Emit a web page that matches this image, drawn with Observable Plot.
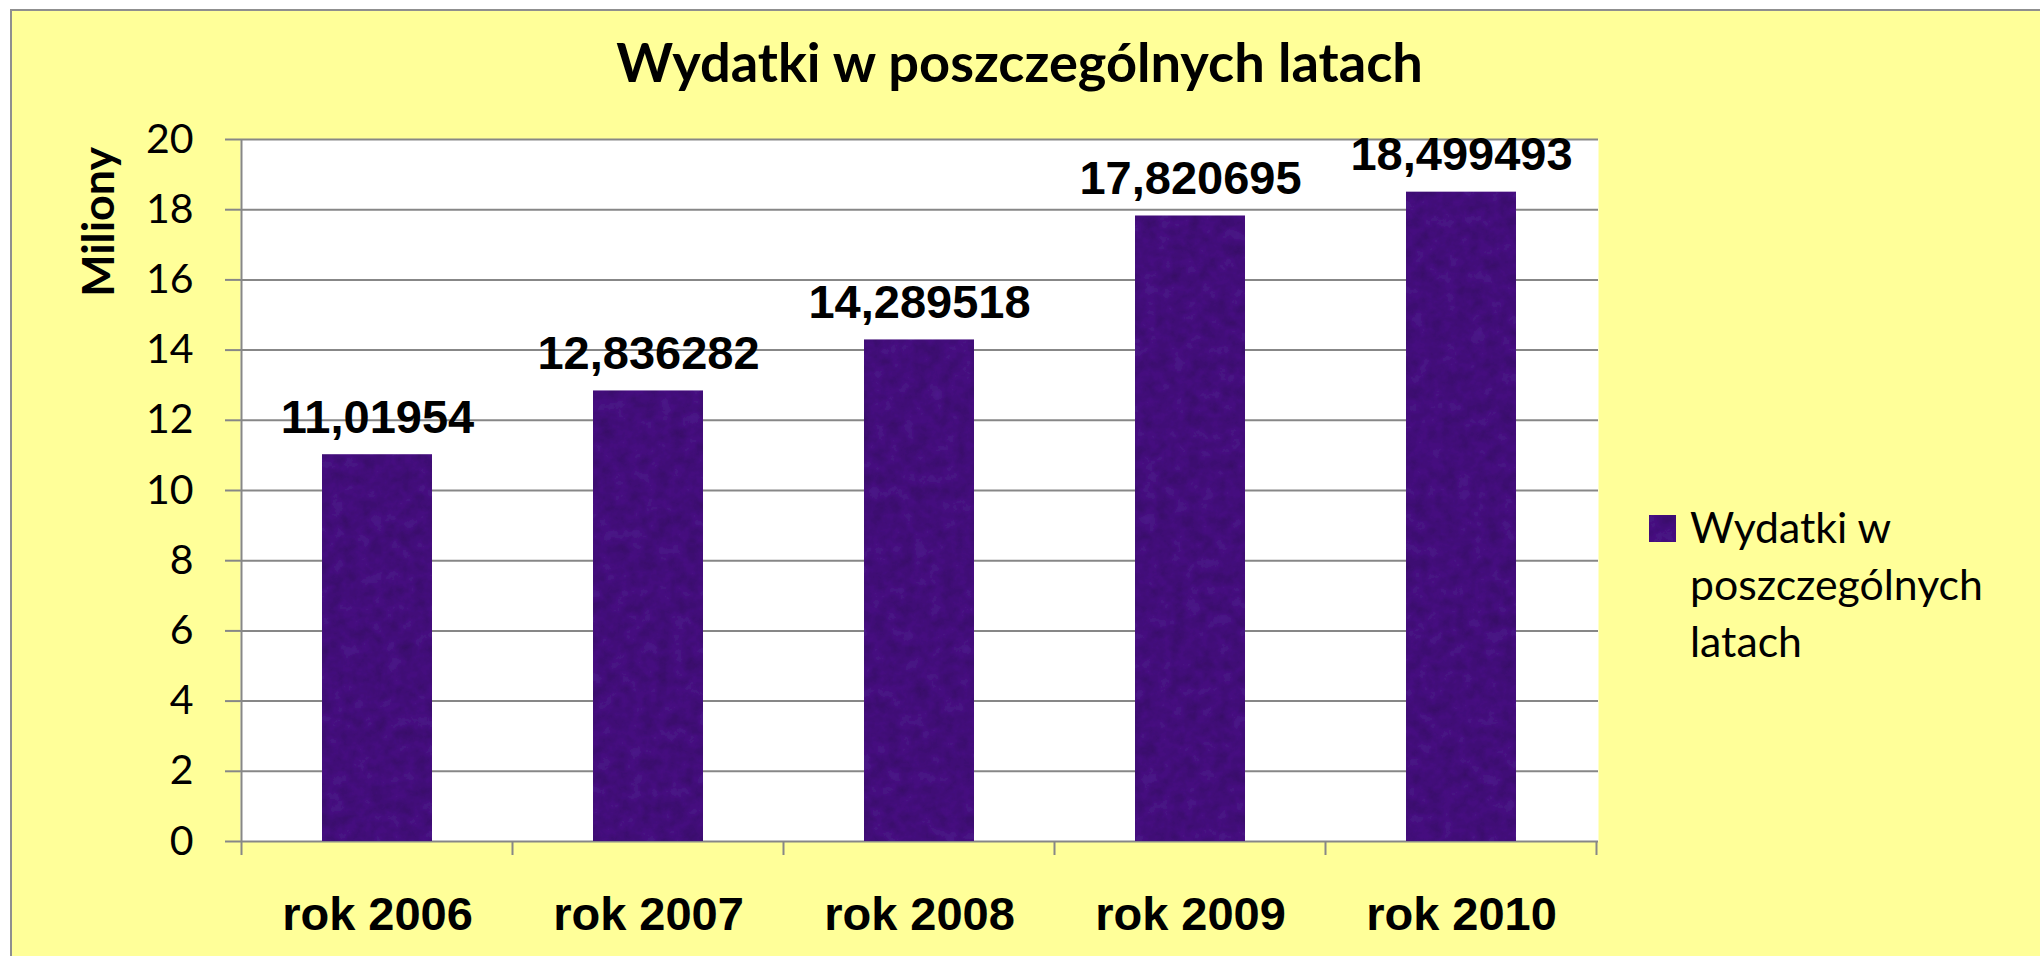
<!DOCTYPE html>
<html>
<head>
<meta charset="utf-8">
<script src="https://cdn.jsdelivr.net/npm/d3@7"></script>
<script src="https://cdn.jsdelivr.net/npm/@observablehq/plot@0.6"></script>
<style>
  html, body { margin: 0; padding: 0; width: 2040px; height: 956px; overflow: hidden; background: #ffffff; }
  #panel { position: absolute; left: 10px; top: 9px; width: 2040px; height: 956px;
           background: #FFFF99; border-left: 2px solid #8f8f8f; border-top: 2px solid #8f8f8f; }
  #chart { position: absolute; left: 0; top: 0; }
  .lbl { position: absolute; white-space: nowrap; color: #000; font-family: Lato, "Open Sans", sans-serif; }
  #title { font-weight: bold; }
  #ylabel { font-weight: bold; transform-origin: center center; }
  #legend { position: absolute; }
  #legend .sw { position: absolute; }
  #legend .txt { position: absolute; white-space: nowrap; font-family: Lato, "Open Sans", sans-serif; color: #000; }
</style>
</head>
<body>
<div id="panel"></div>
<div id="chart"></div>
<div id="title" class="lbl"></div>
<div id="ylabel" class="lbl"></div>
<div id="legend"></div>
<script>
// ---- data ----
const years = ["rok 2006", "rok 2007", "rok 2008", "rok 2009", "rok 2010"];
const values = [11.01954, 12.836282, 14.289518, 17.820695, 18.499493];
const valueLabels = ["11,01954", "12,836282", "14,289518", "17,820695", "18,499493"];
const yTicks = [0, 2, 4, 6, 8, 10, 12, 14, 16, 18, 20];
const chartTitle = "Wydatki w poszczególnych latach";
const yAxisLabel = "Miliony";
const legendLines = ["Wydatki w", "poszczególnych", "latach"];

const data = years.map((y, i) => ({year: y, value: values[i], label: valueLabels[i]}));

const NS = "http://www.w3.org/2000/svg";
const GRID = "#878787";
const BASE = "#42107a";

// texture definitions (pattern used as bar fill)
const defsMark = () => {
  const g = document.createElementNS(NS, "g");
  g.innerHTML = `
    <defs>
      <filter id="noiseF" x="0" y="0" width="100%" height="100%">
        <feTurbulence type="fractalNoise" baseFrequency="0.07" numOctaves="4" seed="11" result="t"/>
        <feColorMatrix in="t" type="matrix" values="1 0 0 0 0  1 0 0 0 0  1 0 0 0 0  0 0 0 0 1" result="g"/>
        <feComposite in="SourceGraphic" in2="g" operator="arithmetic" k1="0.7" k2="0.65" k3="0" k4="0" result="m"/>
        <feComposite in="m" in2="SourceGraphic" operator="in"/>
      </filter>
      <pattern id="barTex" patternUnits="userSpaceOnUse" x="0" y="0" width="2040" height="956">
        <rect x="0" y="0" width="2040" height="956" fill="${BASE}" filter="url(#noiseF)"/>
      </pattern>
    </defs>`;
  return g;
};

// left axis line and category boundary ticks
const boundaryMark = (index, scales, values, dims) => {
  const x = scales.x, y = scales.y;
  const bw = x.bandwidth ? x.bandwidth() : 0;
  const step = x.step ? x.step() : (x(years[1]) - x(years[0]));
  const pad = (step - bw) / 2;
  const g = document.createElementNS(NS, "g");
  g.setAttribute("stroke", GRID);
  g.setAttribute("stroke-width", 2);
  const y0 = y(0), yTop = y(yTicks[yTicks.length - 1]);
  const bounds = years.map(d => x(d) - pad).concat([x(years[years.length - 1]) + bw + pad]);
  const left = bounds[0];
  const line = (x1, y1, x2, y2) => {
    const l = document.createElementNS(NS, "line");
    l.setAttribute("x1", x1); l.setAttribute("y1", y1);
    l.setAttribute("x2", x2); l.setAttribute("y2", y2);
    g.appendChild(l);
  };
  line(left, yTop, left, y0);
  bounds.forEach(b => line(b, y0, b, y0 + 14));
  return g;
};

const chart = Plot.plot({
  width: 2040,
  height: 956,
  marginLeft: 240,
  marginRight: 442,
  marginTop: 139,
  marginBottom: 115,
  style: {background: "transparent", overflow: "visible"},
  x: {domain: years, paddingInner: 0.595, paddingOuter: 0.2975, axis: null},
  y: {domain: [0, 20], axis: null},
  marks: [
    defsMark,
    Plot.frame({fill: "white", stroke: null}),
    Plot.gridY(yTicks, {stroke: GRID, strokeOpacity: 1, strokeWidth: 2}),
    Plot.barY(data, {x: "year", y: "value", fill: "url(#barTex)"}),
    boundaryMark,
    Plot.axisY(yTicks, {
      tickSize: 15, tickPadding: 32, stroke: GRID, strokeWidth: 2, fill: "black",
      fontSize: 41, fontFamily: "Lato, 'Open Sans', sans-serif", label: null,
      tickFormat: d => String(d)
    }),
    Plot.axisX({
      tickSize: 0, tickPadding: 55, fill: "black",
      fontSize: 47, fontWeight: "bold", fontFamily: "'Liberation Sans', Arial, sans-serif", label: null
    }),
    Plot.text(data, {
      x: "year", y: "value", text: "label", dy: -22, lineAnchor: "bottom",
      fontSize: 47, fontWeight: "bold", fontFamily: "'Liberation Sans', Arial, sans-serif", fill: "black"
    })
  ]
});
document.getElementById("chart").appendChild(chart);

// ---- HTML texts ----
const ASC = 0.987, LH = 1.2;
function fitFont(el, targetWidth, base) {
  el.style.fontSize = base + "px";
  el.style.lineHeight = LH;
  const w = el.getBoundingClientRect().width;
  const f = base * targetWidth / w;
  el.style.fontSize = f + "px";
  return f;
}

// title
const title = document.getElementById("title");
title.textContent = chartTitle;
const tf = fitFont(title, 807, 56);
const tw = title.getBoundingClientRect().width;
title.style.left = (1019.5 - tw / 2) + "px";
title.style.top = (83 - ASC * tf) + "px";

// y-axis label (rotated)
const yl = document.getElementById("ylabel");
yl.textContent = yAxisLabel;
const yf = fitFont(yl, 150, 46);
const yr = yl.getBoundingClientRect();
const cx = 115 - (ASC - LH / 2) * yf, cy = 222;
yl.style.left = (cx - yr.width / 2) + "px";
yl.style.top = (cy - yr.height / 2) + "px";
yl.style.transform = "rotate(-90deg)";

// legend
const legend = document.getElementById("legend");
legend.style.left = "0px"; legend.style.top = "0px";
const sw = document.createElementNS(NS, "svg");
sw.setAttribute("class", "sw");
sw.setAttribute("width", 27); sw.setAttribute("height", 27);
sw.style.left = "1649px"; sw.style.top = "515px";
sw.innerHTML = `<rect x="0" y="0" width="27" height="27" fill="url(#barTex)"/>`;
legend.appendChild(sw);
const probe = document.createElement("div");
probe.className = "txt";
probe.textContent = legendLines[1];
legend.appendChild(probe);
const lf = fitFont(probe, 293, 46);
legend.removeChild(probe);
const baselines = [543, 600, 657];
legendLines.forEach((t, i) => {
  const d = document.createElement("div");
  d.className = "txt";
  d.textContent = t;
  d.style.fontSize = lf + "px";
  d.style.lineHeight = LH;
  d.style.left = "1690px";
  d.style.top = (baselines[i] - ASC * lf) + "px";
  legend.appendChild(d);
});
</script>
</body>
</html>
